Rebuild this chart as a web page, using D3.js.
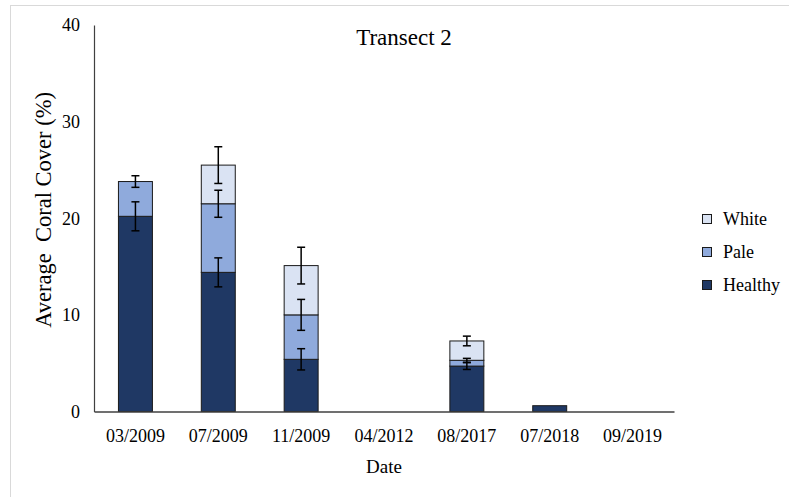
<!DOCTYPE html>
<html>
<head>
<meta charset="utf-8">
<script src="https://cdn.jsdelivr.net/npm/d3@7"></script>
<style>
  html, body { margin: 0; padding: 0; background: #fff; }
  svg { display: block; }
</style>
</head>
<body>
<svg id="chart" width="789" height="497"></svg>
<script>
// Survey dates along the x axis
const dates = ["03/2009", "07/2009", "11/2009", "04/2012", "08/2017", "07/2018", "09/2019"];

// Average coral cover (%) per condition class
const healthy = [20.2, 14.4, 5.4, 0, 4.7, 0.6, 0];
const pale    = [3.6, 7.1, 4.6, 0, 0.6, 0, 0];
const white   = [0, 4.0, 5.1, 0, 2.0, 0, 0];

// Error (±) for each segment
const healthyErr = [1.5, 1.5, 1.1, 0, 0.35, 0, 0];
const paleErr    = [0.6, 1.4, 1.6, 0, 0.2, 0, 0];
const whiteErr   = [0, 1.9, 1.9, 0, 0.5, 0, 0];

const yTicks = [0, 10, 20, 30, 40];

const seriesNames = ["Healthy", "Pale", "White"];
const colors = { Healthy: "#1f3864", Pale: "#8faadc", White: "#dae3f3" };

const FONT = "Liberation Serif";
const svg = d3.select("#chart");

// chart frame
svg.append("rect")
  .attr("x", 10.5).attr("y", 5.5)
  .attr("width", 800).attr("height", 520)
  .attr("fill", "#fff").attr("stroke", "#d9d9d9").attr("stroke-width", 1);

const plotLeft = 94, plotRight = 674, plotTop = 25, plotBottom = 411.5;

const x = d3.scaleBand().domain(dates).range([plotLeft, plotRight])
  .paddingInner(0.59).paddingOuter(0.295);
const y = d3.scaleLinear().domain([0, 40]).range([plotBottom, plotTop]);

// stacked table built from the named arrays
const table = dates.map((d, i) => ({
  date: d,
  Healthy: healthy[i], Pale: pale[i], White: white[i],
  errHealthy: healthyErr[i], errPale: paleErr[i], errWhite: whiteErr[i]
}));
const stack = d3.stack().keys(seriesNames)(table);

const g = svg.append("g");
stack.forEach(layer => {
  g.append("g").selectAll("rect")
    .data(layer.filter(s => s[1] - s[0] > 0))
    .join("rect")
    .attr("x", s => x(s.data.date))
    .attr("width", x.bandwidth())
    .attr("y", s => y(s[1]))
    .attr("height", s => y(s[0]) - y(s[1]))
    .attr("fill", colors[layer.key])
    .attr("stroke", "#1a1a1a")
    .attr("stroke-width", 1);
});

// error bars at the top of each segment
const capHalf = 4;
stack.forEach(layer => {
  const errKey = "err" + layer.key;
  const pts = layer.filter(s => s[1] - s[0] > 0 && s.data[errKey] > 0);
  const eg = g.append("g").attr("stroke", "#000").attr("stroke-width", 1.5);
  pts.forEach(s => {
    const cx = x(s.data.date) + x.bandwidth() / 2;
    const y1 = y(s[1] + s.data[errKey]);
    const y2 = y(s[1] - s.data[errKey]);
    eg.append("line").attr("x1", cx).attr("x2", cx).attr("y1", y1).attr("y2", y2);
    eg.append("line").attr("x1", cx - capHalf).attr("x2", cx + capHalf).attr("y1", y1).attr("y2", y1);
    eg.append("line").attr("x1", cx - capHalf).attr("x2", cx + capHalf).attr("y1", y2).attr("y2", y2);
  });
});

// y axis
const yAxis = svg.append("g")
  .attr("transform", `translate(${plotLeft},0)`)
  .call(d3.axisLeft(y).tickValues(yTicks).tickSize(0).tickPadding(14));
yAxis.attr("font-family", FONT);
yAxis.select(".domain").attr("stroke", "#404040").attr("stroke-width", 1.2);
yAxis.selectAll("text").style("font-size", "18px").style("font-family", FONT).attr("fill", "#000");

// x axis
const xAxis = svg.append("g")
  .attr("transform", `translate(0,${plotBottom})`)
  .call(d3.axisBottom(x).tickSize(0).tickPadding(18));
xAxis.attr("font-family", FONT);
xAxis.select(".domain").attr("stroke", "#404040").attr("stroke-width", 1.5);
xAxis.selectAll("text").style("font-size", "18px").style("font-family", FONT).attr("fill", "#000");

// titles
svg.append("text").attr("x", 404).attr("y", 37).attr("text-anchor", "middle")
  .attr("dominant-baseline", "central")
  .style("font-family", FONT).style("font-size", "23px").text("Transect 2");

svg.append("text").attr("x", 384).attr("y", 466).attr("text-anchor", "middle")
  .attr("dominant-baseline", "central")
  .style("font-family", FONT).style("font-size", "19px").text("Date");

svg.append("text")
  .attr("transform", `translate(43,210) rotate(-90)`)
  .attr("text-anchor", "middle").attr("dominant-baseline", "central")
  .style("font-family", FONT).style("font-size", "22.5px").style("white-space", "pre")
  .text("Average  Coral Cover (%)");

// legend
const legendItems = ["White", "Pale", "Healthy"];
const legend = svg.append("g");
legendItems.forEach((k, i) => {
  const cy = 219 + i * 33;
  legend.append("rect").attr("x", 702.5).attr("y", cy - 4.5)
    .attr("width", 9).attr("height", 9)
    .attr("fill", colors[k]).attr("stroke", "#1a1a1a").attr("stroke-width", 1);
  legend.append("text").attr("x", 723).attr("y", cy)
    .attr("dominant-baseline", "central")
    .style("font-family", FONT).style("font-size", "18px").text(k);
});
</script>
</body>
</html>
